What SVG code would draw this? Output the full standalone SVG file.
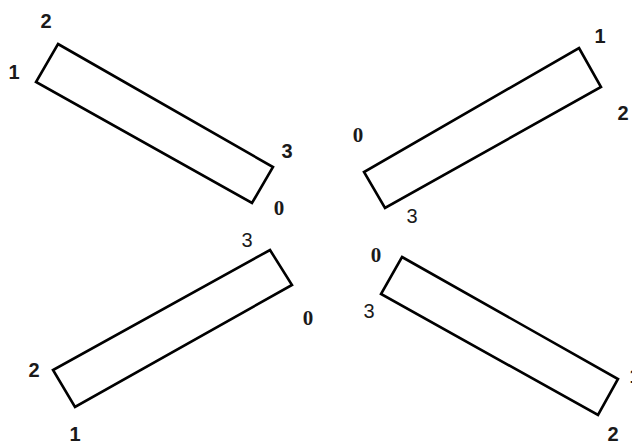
<svg xmlns="http://www.w3.org/2000/svg" width="632" height="445" viewBox="0 0 632 445">
<style>
.bar{fill:#fff;stroke:#000;stroke-width:2.6;stroke-linejoin:miter}
.l{font-family:"Liberation Sans",Arial,sans-serif;font-size:20px;font-weight:bold;fill:#1a1a1a;text-anchor:middle}
.z{font-family:"Liberation Serif","Times New Roman",serif;font-size:21px;font-weight:bold;fill:#1a1a1a;text-anchor:middle}
.t{font-family:"Liberation Sans",Arial,sans-serif;font-size:20px;fill:#1a1a1a;text-anchor:middle}
</style>
<rect width="632" height="445" fill="#fff"/>
<g id="bar-top-left">
<polygon class="bar" points="58,44 273,167 252,203 36,82"/>
<text class="l" x="46" y="28">2</text>
<text class="l" x="14" y="79">1</text>
<text class="l" x="287" y="158">3</text>
<text class="z" x="279" y="215">0</text>
</g>
<g id="bar-top-right">
<polygon class="bar" points="579,48 601,87 385,208 364,172"/>
<text class="l" x="600" y="43">1</text>
<text class="l" x="623" y="120">2</text>
<text class="z" x="358" y="142">0</text>
<text class="t" x="412" y="223">3</text>
</g>
<g id="bar-bottom-left">
<polygon class="bar" points="270,250 292,285 75,407 53,370"/>
<text class="t" x="247" y="247">3</text>
<text class="z" x="308" y="325">0</text>
<text class="l" x="34" y="377">2</text>
<text class="l" x="75" y="441">1</text>
</g>
<g id="bar-bottom-right">
<polygon class="bar" points="402,257 618,379 598,415 381,294"/>
<text class="z" x="376" y="262">0</text>
<text class="t" x="369" y="318">3</text>
<text class="l" x="613" y="441">2</text>
<text class="l" x="635" y="383">1</text>
</g>
<g id="connectors"/>
</svg>
